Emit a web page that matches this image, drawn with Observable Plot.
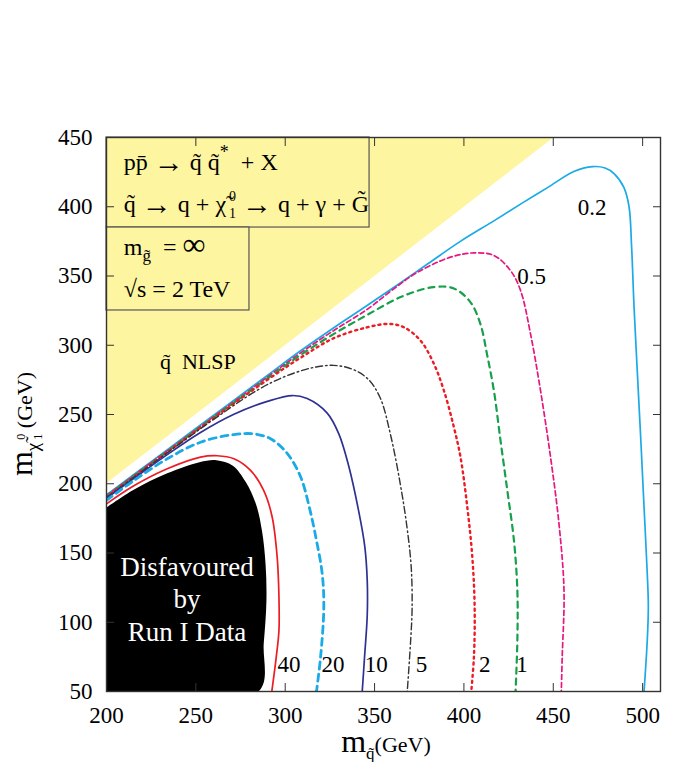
<!DOCTYPE html>
<html><head><meta charset="utf-8">
<script src="https://cdn.jsdelivr.net/npm/d3@7"></script>
<script src="https://cdn.jsdelivr.net/npm/@observablehq/plot@0.6"></script>
<style>html,body{margin:0;padding:0;background:#fff}svg{display:block}</style>
</head><body><div id="chart"></div>
<script>
// ---------- data ----------
const xTicks = [200, 250, 300, 350, 400, 450, 500];
const yTicks = [50, 100, 150, 200, 250, 300, 350, 400, 450];
const levels = ["0.2", "0.5", "1", "2", "5", "10", "20", "40"];

const c02x = [200, 230, 260, 290, 308.6, 327, 345, 365, 380, 398, 417, 433, 447, 461.5, 472, 479, 484, 489.5, 492.4, 493.8, 495.2, 497.1, 499, 500.8, 502.6, 503.2, 502.6, 500.8];
const c02y = [192, 220.7, 249.5, 278.2, 296, 312.5, 328, 345.5, 359, 375, 390, 403, 414, 425.5, 429, 428, 424, 414, 400, 372, 327.5, 279, 231, 183, 135, 111, 87, 50];

const c05x = [200, 230, 260, 290, 308.6, 327, 346, 360, 374, 392.5, 405.6, 416.8, 426, 431.7, 437.3, 442.9, 448.5, 453.2, 456, 455, 454.5];
const c05y = [191.5, 220, 248.5, 277, 294.5, 310.5, 326, 340, 352.7, 363.6, 366.7, 364.8, 354, 339.5, 308, 267, 219, 171, 123, 75, 50];

const c1x = [200, 230, 260, 290, 308.6, 327, 346, 365, 383, 394.4, 403.7, 409.3, 413, 416.8, 420.5, 424.3, 428, 429.9, 429.9, 428.9];
const c1y = [191, 219.5, 248, 276, 293, 308, 322, 335, 342, 341, 331, 315, 293, 267, 231, 195, 159, 123, 87, 50];

const c2x = [200, 230, 260, 290, 308.6, 327, 346, 358, 366.4, 375.7, 383.2, 388.8, 394.4, 398.1, 401.9, 404.7, 406, 405.6, 404.1];
const c2y = [190.5, 219, 247.5, 275, 291, 305, 313, 315.4, 313, 303.4, 286.6, 267.3, 240.8, 219.2, 183, 147, 111, 75, 50];

const c5x = [200, 230, 260, 285, 299, 310, 318, 327, 337, 346, 353, 359, 364.5, 368, 370.5, 371, 370.2, 368.3];
const c5y = [190, 218.5, 246.5, 268, 277, 282, 284.5, 285.5, 283, 276, 262.5, 235, 199, 170, 140, 110, 87, 50];

const c10x = [200, 215, 234, 252.6, 271, 290, 304, 312.3, 323.5, 330, 335.5, 341, 344.5, 345.9, 345.9, 344.4, 343.1];
const c10y = [189.5, 203.5, 221, 237, 250, 259.5, 263.7, 261.5, 251, 236, 213, 181, 155, 130, 105, 75, 50];

const c20x = [200, 215, 234, 252.6, 271.3, 282.5, 291.8, 301.1, 308.6, 313.5, 317.5, 320.7, 321.6, 319.8, 317.5];
const c20y = [188, 202, 218, 230, 235.5, 236, 232.5, 222, 205, 183, 159, 135, 111, 75, 50];

const c40x = [200, 215.3, 234, 252.6, 262, 271.3, 280.6, 288, 292.7, 295.5, 296.5, 296.5, 295, 292.5];
const c40y = [185.5, 198.5, 210.8, 219.2, 220.2, 218, 209.6, 195, 176, 147, 118, 94, 75, 50];

const runIx = [200, 215, 234, 252, 261.5, 270.7, 278, 283.7, 287, 289, 289.5, 288, 285, 200];
const runIy = [182.8, 195.5, 207.5, 215.5, 217, 213, 201, 185, 166, 142, 116, 85, 50, 50];

const nlspX = [200, 450, 200];
const nlspY = [200.5, 450, 450];

const labelText = ["0.2", "0.5", "1", "2", "5", "10", "20", "40"];
const labelX = [471.8, 437.9, 432.5, 411.6, 376.2, 351, 326.7, 302.1];
const labelY = [399.2, 349.6, 69.5, 69.5, 69.5, 69.5, 69.5, 69.5];

// ---------- build ----------
const xs = [c02x, c05x, c1x, c2x, c5x, c10x, c20x, c40x];
const ys = [c02y, c05y, c1y, c2y, c5y, c10y, c20y, c40y];
const contours = levels.map((lv, i) => xs[i].map((x, j) => ({level: lv, x, y: ys[i][j]})));
const runI = runIx.map((x, i) => ({x, y: runIy[i]}));
const nlsp = nlspX.map((x, i) => ({x, y: nlspY[i]}));
const labels = labelText.map((t, i) => ({t, x: labelX[i], y: labelY[i]}));

const FONT = "Liberation Serif";
const yellow = "#FEF5A0";
const sty = {
  "0.2": {stroke: "#1AAAE6", strokeWidth: 1.7},
  "0.5": {stroke: "#E6177F", strokeWidth: 1.7, strokeDasharray: "5,3"},
  "1":   {stroke: "#17A04B", strokeWidth: 2.2, strokeDasharray: "6,5"},
  "2":   {stroke: "#EC1C24", strokeWidth: 2.4, strokeDasharray: "2,4"},
  "5":   {stroke: "#333333", strokeWidth: 1.4, strokeDasharray: "7,3,1.6,3"},
  "10":  {stroke: "#2E3192", strokeWidth: 1.7},
  "20":  {stroke: "#1AAAE6", strokeWidth: 2.8, strokeDasharray: "7,5"},
  "40":  {stroke: "#EC1C24", strokeWidth: 1.7}
};

const boxes = [
  {x1: 200, x2: 347.2, y1: 385, y2: 450},
  {x1: 200, x2: 280, y1: 325.1, y2: 385}
];

const marks = [
  Plot.line(nlsp, {x: "x", y: "y", fill: yellow, stroke: "none"}),
  Plot.rect(boxes, {x1: "x1", x2: "x2", y1: "y1", y2: "y2", fill: yellow, stroke: "#555", strokeWidth: 1.2}),
  Plot.line(runI, {x: "x", y: "y", fill: "black", stroke: "none", curve: "catmull-rom", clip: true}),
];
contours.forEach((rows, i) => {
  marks.push(Plot.line(rows, {x: "x", y: "y", curve: "catmull-rom", clip: true, ...sty[levels[i]]}));
});
marks.push(
  Plot.text(labels, {x: "x", y: "y", text: "t", fontSize: 23, fill: "black"}),
  Plot.frame({stroke: "#333", strokeWidth: 1.4}),
  Plot.axisX({anchor: "bottom", ticks: xTicks, tickSize: -8, tickPadding: 23, fontSize: 23, label: null, stroke: "#333"}),
  Plot.axisX({anchor: "top", ticks: xTicks, tickSize: -8, tickFormat: () => "", label: null, stroke: "#333"}),
  Plot.axisY({anchor: "left", ticks: yTicks, tickSize: -8, tickPadding: 22, fontSize: 23, label: null, stroke: "#333"}),
  Plot.axisY({anchor: "right", ticks: yTicks, tickSize: -8, tickFormat: () => "", label: null, stroke: "#333"})
);

const plot = Plot.plot({
  width: 700, height: 762,
  marginTop: 137, marginBottom: 71, marginLeft: 106, marginRight: 40,
  x: {domain: [200, 510]},
  y: {domain: [50, 450]},
  style: {fontFamily: FONT, background: "white", color: "black"},
  marks
});
document.getElementById("chart").appendChild(plot);

// ---------- rich text annotations ----------
const sx = plot.scale("x").apply, sy = plot.scale("y").apply;
const svg = d3.select(plot);
const ann = svg.append("g").attr("font-family", FONT).attr("fill", "black");
function rich(sel, x, y, parts, size, anchor) {
  const t = sel.append("text").attr("x", x).attr("y", y).attr("font-size", size).attr("text-anchor", anchor || "start");
  for (const p of parts) {
    const ts = t.append("tspan").text(p.t);
    if (p.s) ts.attr("font-size", p.s);
    if (p.dx) ts.attr("dx", p.dx);
    if (p.dy) ts.attr("dy", p.dy);
  }
  return t;
}
const AR = 30; // arrow glyph size
rich(ann, sx(210), sy(426.2), [
  {t: "pp\u0304 "}, {t: "\u2192", s: AR, dy: 2}, {t: " q\u0303 q\u0303", dy: -2}, {t: "*", s: 18, dy: -12}, {t: "  + X", dy: 12}
], 24);
rich(ann, sx(210), sy(396), [
  {t: "q\u0303 "}, {t: "\u2192", s: AR, dy: 2}, {t: " q + \u03C7\u0303", dy: -2}, {t: "0", s: 14, dx: 3, dy: -11}, {t: "1", s: 14, dx: -7, dy: 17},
  {t: " ", dy: -6}, {t: "\u2192", s: AR, dy: 2}, {t: " q + \u03B3 + G\u0303", dy: -2}
], 24);
rich(ann, sx(210), sy(364.8), [
  {t: "m"}, {t: "g\u0303", s: 17, dy: 6}, {t: "  = ", dy: -6}, {t: "\u221E", s: 32}
], 24);
rich(ann, sx(210), sy(334.7), [{t: "\u221As = 2 TeV"}], 24);
rich(ann, sx(230.2), sy(282.5), [{t: "q\u0303  NLSP"}], 22);

const dis = ann.append("g").attr("fill", "white");
rich(dis, sx(245.3), sy(133), [{t: "Disfavoured"}], 27, "middle");
rich(dis, sx(245.3), sy(110), [{t: "by"}], 27, "middle");
rich(dis, sx(245.3), sy(86.1), [{t: "Run I Data"}], 27, "middle");

// axis titles
rich(ann, 386, 752, [
  {t: "m", s: 32}, {t: "q\u0303", s: 17, dy: 7}, {t: "(GeV)", s: 22, dy: -7}
], 22, "middle");
const yl = ann.append("g").attr("transform", "translate(32,424) rotate(-90)");
rich(yl, 0, 0, [
  {t: "m", s: 32}, {t: "\u03C7\u0303", s: 19, dy: 7}, {t: "0", s: 12, dx: 3, dy: -14},
  {t: "1", s: 12, dx: -6, dy: 17}, {t: " (GeV)", s: 22, dy: -10}
], 22, "middle");
</script>
</body></html>
